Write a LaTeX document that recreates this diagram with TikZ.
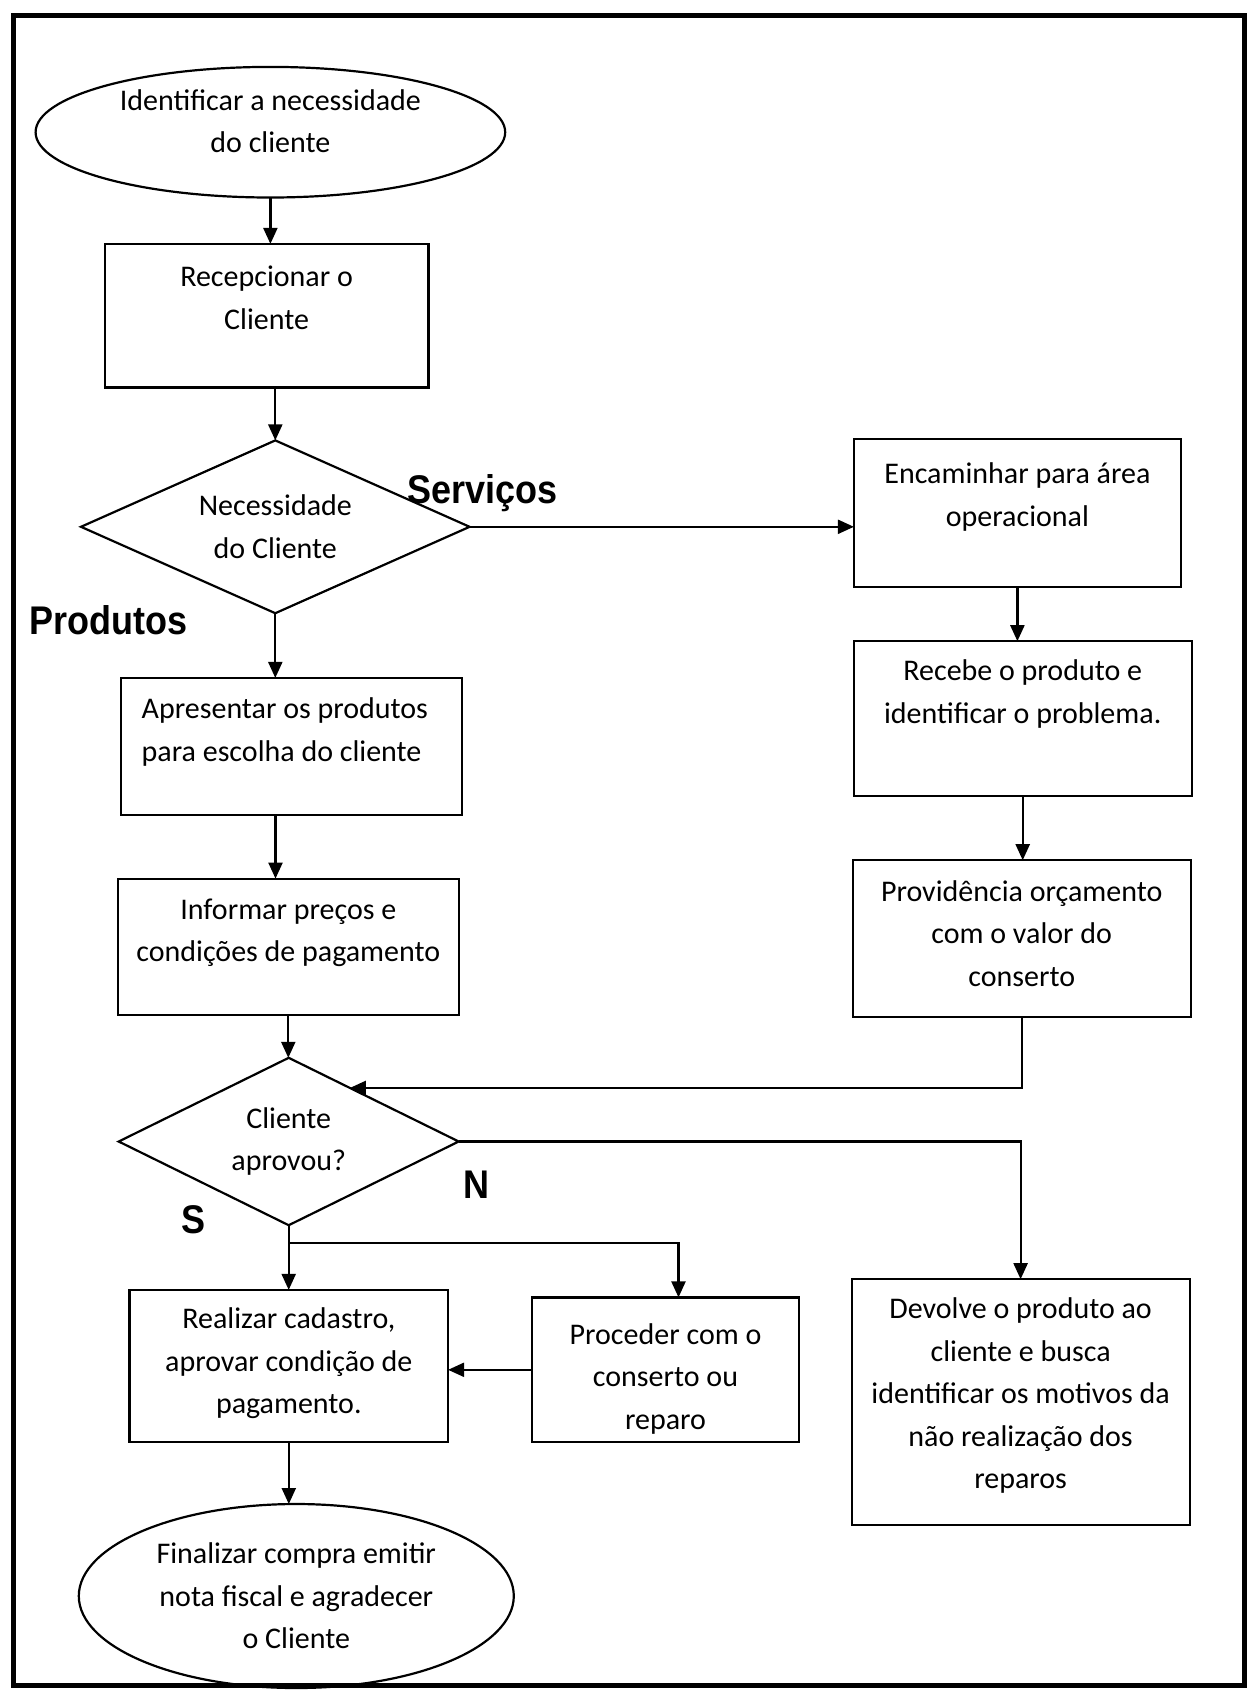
\documentclass[tikz,border=0pt]{standalone}
\usepackage{fontspec}
\setmainfont{Carlito}
\newfontfamily\rotulofont{Liberation Sans}[FakeStretch=0.9]
\usetikzlibrary{arrows.meta,calc,positioning,shapes.geometric}

\tikzset{
  caixa/.style={draw, line width=1.1pt, rectangle, inner sep=0pt, outer sep=0pt},
  elipse/.style={draw, line width=1.1pt, ellipse, inner sep=0pt, outer sep=0pt, align=center},
  losango/.style={draw, line width=1.1pt, diamond, aspect=2.2, inner sep=0pt, outer sep=0pt, align=center},
  texto/.style={align=center, inner sep=0pt},
  rotulo/.style={font=\rotulofont\bfseries\fontsize{20}{24}\selectfont, inner sep=0pt},
  seta/.style={line width=1.1pt, -{Triangle[length=8pt,width=7pt]}}
}

\begin{document}
\begin{tikzpicture}[x=0.5pt, y=-0.5pt, font=\fontsize{15}{21.3}\selectfont]
\useasboundingbox (0,0) rectangle (1250,1693);
\draw[line width=2.5pt] (13,15) rectangle (1244,1685);

\node[elipse, minimum width=234.8pt, minimum height=65.3pt] (A) at (270.4,132.2) {};
\node[texto] (A2) at ($(A.center)+(0,-11)$) {Identificar a necessidade\\do cliente};
\node[caixa, minimum width=161.9pt, minimum height=71.8pt] (B) at (266.6,315.7) {};
\node[texto, below=11pt of B.north] (B2) {Recepcionar o\\Cliente};
\node[losango, minimum width=194.3pt, minimum height=86.4pt] (C) at (275.3,526.8) {Necessidade\\do Cliente};
\node[caixa, minimum width=163.5pt, minimum height=74pt] (D) at (1017.4,513.2) {};
\node[texto, below=11.6pt of D.north] (D2) {Encaminhar para área\\operacional};
\node[caixa, minimum width=169pt, minimum height=77.2pt] (E) at (1022.7,718.4) {};
\node[texto, below=9.2pt of E.north] (E2) {Recebe o produto e\\identificar o problema.};
\node[caixa, minimum width=169pt, minimum height=78.3pt] (F) at (1021.7,938.5) {};
\node[texto, below=9.8pt of F.north] (F2) {Providência orçamento\\com o valor do\\conserto};
\node[caixa, minimum width=170.6pt, minimum height=68.6pt] (G) at (291.5,746.5) {};
\node[texto, align=left, below right=9.8pt and 10.2pt of G.north west] (G2) {Apresentar os produtos\\para escolha do cliente};
\node[caixa, minimum width=170.6pt, minimum height=68pt] (H) at (288.3,946.6) {};
\node[texto, below=9.8pt of H.north] (H2) {Informar preços e\\condições de pagamento};
\node[losango, minimum width=170pt, minimum height=83.7pt] (I) at (288.7,1141.5) {Cliente\\aprovou?};
\node[caixa, minimum width=159.3pt, minimum height=76.1pt] (J) at (288.8,1366) {};
\node[texto, below=8.8pt of J.north] (J2) {Realizar cadastro,\\aprovar condição de\\pagamento.};
\node[caixa, minimum width=133.4pt, minimum height=72.4pt] (K) at (665.5,1369.8) {};
\node[texto, below=12.8pt of K.north] (K2) {Proceder com o\\conserto ou\\reparo};
\node[caixa, minimum width=169pt, minimum height=123pt] (L) at (1020.6,1402.2) {};
\node[texto, below=9pt of L.north] (L2) {Devolve o produto ao\\cliente e busca\\identificar os motivos da\\não realização dos\\reparos};
\node[elipse, minimum width=217.5pt, minimum height=92pt] (M) at (296.3,1596) {Finalizar compra emitir\\nota fiscal e agradecer\\o Cliente};

\node[rotulo] (P) at (108.5,620.6) {Produtos};
\node[rotulo] (Q) at (482.5,493.3) {Serviços};
\node[rotulo] (R) at (193.2,1219.7) {S};
\node[rotulo] (T) at (476,1185) {N};

\coordinate (g1) at ($(G.south)+(-16,0)$);
\coordinate (i1) at ($(I.north)!0.36!(I.east)$);
\coordinate (i2) at ($(I.south)!0.28!(J.north)$);
\coordinate (k1) at ($(K.north)+(13,0)$);

\draw[seta] (A.south) -- (A.south |- B.north);
\draw[seta] (C.north |- B.south) -- (C.north);
\draw[seta] (C.east) -- (C.east -| D.west);
\draw[seta] (C.south) -- (C.south |- G.north);
\draw[seta] (D.south) -- (D.south |- E.north);
\draw[seta] (E.south) -- (E.south |- F.north);
\draw[seta] (g1) -- (g1 |- H.north);
\draw[seta] (H.south) -- (H.south |- I.north);
\draw[seta] (F.south) |- (i1);
\draw[seta] (I.east) -| (L.north);
\draw[seta] (I.south) -- (I.south |- J.north);
\draw[seta] (i2) -| (k1);
\draw[seta] (K.west) -- (K.west -| J.east);
\draw[seta] (J.south) -- (J.south |- M.north);
\end{tikzpicture}
\end{document}
